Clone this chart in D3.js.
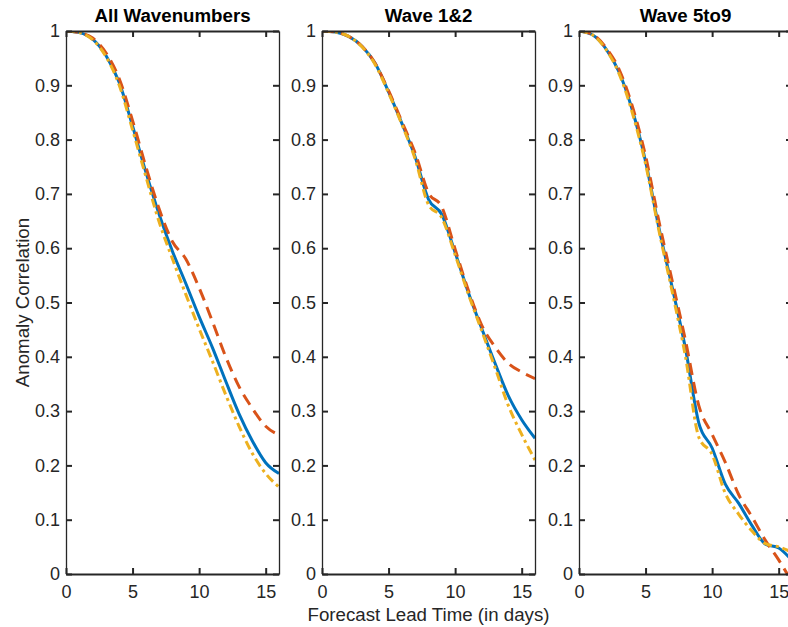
<!DOCTYPE html>
<html>
<head>
<meta charset="utf-8">
<script src="https://cdn.jsdelivr.net/npm/d3@7"></script>
<style>
  body { margin: 0; background: #fff; }
  svg { display: block; font-family: "Liberation Sans", Arial, Helvetica, sans-serif; }
</style>
</head>
<body>
<div id="chart"></div>
<script>
// forecast lead time (days)
var days = [0, 1, 2, 3, 4, 5, 6, 7, 8, 9, 10, 11, 12, 13, 14, 15, 16];

var titles = ["All Wavenumbers", "Wave 1&2", "Wave 5to9"];

// anomaly correlation, one array per line
var allBlue   = [1.000, 0.997, 0.985, 0.955, 0.905, 0.825, 0.740, 0.662, 0.594, 0.535, 0.474, 0.417, 0.355, 0.295, 0.245, 0.205, 0.185];
var allRed    = [1.000, 0.997, 0.987, 0.960, 0.912, 0.835, 0.750, 0.672, 0.612, 0.580, 0.527, 0.465, 0.400, 0.345, 0.305, 0.272, 0.256];
var allYellow = [1.000, 0.997, 0.984, 0.953, 0.900, 0.818, 0.732, 0.648, 0.580, 0.515, 0.452, 0.392, 0.330, 0.272, 0.222, 0.185, 0.160];

var w12Blue   = [1.000, 0.998, 0.990, 0.972, 0.940, 0.888, 0.830, 0.768, 0.690, 0.662, 0.592, 0.518, 0.452, 0.388, 0.328, 0.284, 0.250];
var w12Red    = [1.000, 0.998, 0.990, 0.972, 0.940, 0.890, 0.833, 0.775, 0.702, 0.676, 0.598, 0.522, 0.458, 0.418, 0.388, 0.372, 0.360];
var w12Yellow = [1.000, 0.998, 0.990, 0.971, 0.938, 0.886, 0.828, 0.764, 0.680, 0.656, 0.588, 0.515, 0.448, 0.380, 0.310, 0.257, 0.210];

var w59Blue   = [1.000, 0.993, 0.968, 0.925, 0.855, 0.760, 0.638, 0.528, 0.415, 0.278, 0.232, 0.165, 0.130, 0.089, 0.055, 0.048, 0.025];
var w59Red    = [1.000, 0.994, 0.970, 0.930, 0.862, 0.770, 0.650, 0.540, 0.430, 0.310, 0.257, 0.205, 0.146, 0.105, 0.062, 0.026, -0.015];
var w59Yellow = [1.000, 0.993, 0.967, 0.922, 0.850, 0.755, 0.633, 0.520, 0.400, 0.252, 0.220, 0.148, 0.110, 0.079, 0.056, 0.050, 0.040];

var panelSeries = [
  [allBlue, allRed, allYellow],
  [w12Blue, w12Red, w12Yellow],
  [w59Blue, w59Red, w59Yellow]
];

var xTicks = [0, 5, 10, 15];
var yTicks = [0, 0.1, 0.2, 0.3, 0.4, 0.5, 0.6, 0.7, 0.8, 0.9, 1];

var colors = ["#0072BD", "#D95319", "#EDB120"];
var dashes = [null, "12,7", "9,4,3,4"];

var svgWidth = 788, svgHeight = 627;
var panelLeft = [66, 322, 579];
var panelWidth = 213;
var plotTop = 31, plotBottom = 574;
var axisColor = "#262626";

var svg = d3.select("#chart")
  .append("svg")
  .attr("width", svgWidth)
  .attr("height", svgHeight);

var y = d3.scaleLinear().domain([0, 1]).range([plotBottom, plotTop]);

panelSeries.forEach(function(series, p) {
  var left = panelLeft[p];
  var x = d3.scaleLinear().domain([0, 16]).range([left, left + panelWidth]);
  var g = svg.append("g");

  g.append("clipPath")
    .attr("id", "clip" + p)
    .append("rect")
    .attr("x", left).attr("y", plotTop)
    .attr("width", panelWidth).attr("height", plotBottom - plotTop);

  var line = d3.line()
    .x(function(d, i) { return x(days[i]); })
    .y(function(d) { return y(d); })
    .curve(d3.curveMonotoneX);

  series.forEach(function(vals, s) {
    g.append("path")
      .datum(vals)
      .attr("clip-path", "url(#clip" + p + ")")
      .attr("d", line)
      .attr("fill", "none")
      .attr("stroke", colors[s])
      .attr("stroke-width", 3)
      .attr("stroke-dasharray", dashes[s]);
  });

  // axes, ticks pointing inward (matlab box style)
  var bottomAxis = d3.axisBottom(x).tickValues(xTicks).tickSizeInner(-6).tickSizeOuter(0).tickPadding(11);
  var topAxis = d3.axisTop(x).tickValues(xTicks).tickSizeInner(-6).tickSizeOuter(0).tickFormat("");
  var leftAxis = d3.axisLeft(y).tickValues(yTicks).tickSizeInner(-6).tickSizeOuter(0).tickPadding(6).tickFormat(d3.format("~g"));
  var rightAxis = d3.axisRight(y).tickValues(yTicks).tickSizeInner(-6).tickSizeOuter(0).tickFormat("");

  var axes = [
    g.append("g").attr("transform", "translate(0," + plotBottom + ")").call(bottomAxis),
    g.append("g").attr("transform", "translate(0," + plotTop + ")").call(topAxis),
    g.append("g").attr("transform", "translate(" + left + ",0)").call(leftAxis),
    g.append("g").attr("transform", "translate(" + (left + panelWidth) + ",0)").call(rightAxis)
  ];
  axes.forEach(function(a, k) {
    a.select(".domain").attr("stroke", axisColor).attr("stroke-width", k < 2 ? 2 : 1.3);
    a.selectAll(".tick line").attr("stroke", axisColor).attr("stroke-width", 2);
    a.selectAll(".tick text")
      .attr("fill", axisColor)
      .style("font-size", "18px")
      .style("font-family", "'Liberation Sans', Arial, Helvetica, sans-serif");
  });

  g.append("text")
    .attr("x", left + panelWidth / 2)
    .attr("y", 21.5)
    .attr("text-anchor", "middle")
    .style("font-size", "18.7px")
    .style("font-weight", "bold")
    .attr("fill", "#000")
    .text(titles[p]);
});

svg.append("text")
  .attr("x", panelLeft[1] + panelWidth / 2)
  .attr("y", 621)
  .attr("text-anchor", "middle")
  .style("font-size", "18.7px")
  .attr("fill", axisColor)
  .text("Forecast Lead Time (in days)");

svg.append("text")
  .attr("transform", "translate(29," + (plotTop + plotBottom) / 2 + ") rotate(-90)")
  .attr("text-anchor", "middle")
  .style("font-size", "18.7px")
  .attr("fill", axisColor)
  .text("Anomaly Correlation");
</script>
</body>
</html>
